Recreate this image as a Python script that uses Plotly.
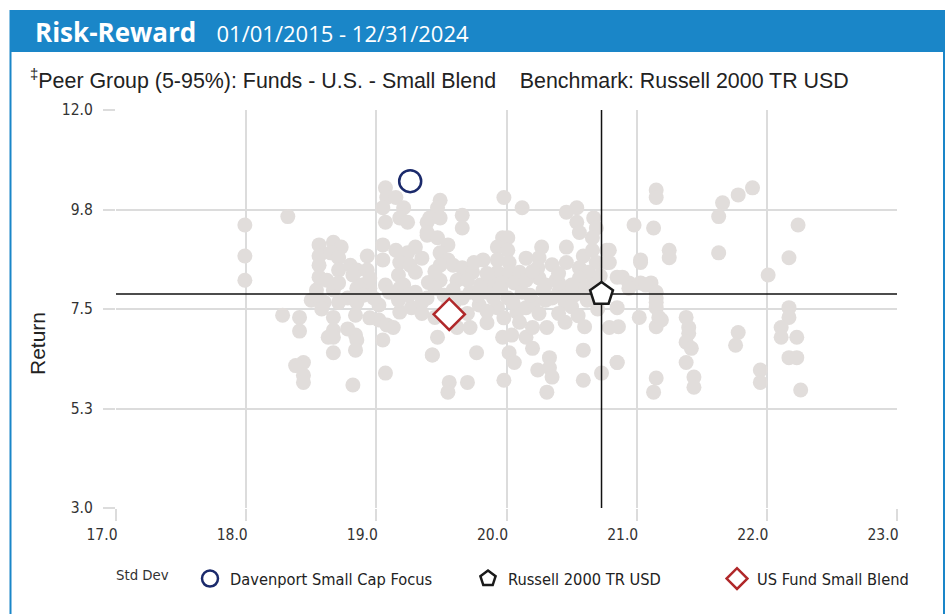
import plotly.graph_objects as go

# Peer group (Std Dev, Return)
peer_x = [17.99, 17.99, 17.99, 18.32,
          18.28, 18.41, 18.41, 18.44, 18.38, 18.44, 18.44,
          18.67, 18.67, 18.63, 18.67, 18.67, 18.82, 18.84, 18.84, 18.85, 18.84, 18.71, 18.85, 19.05, 19.07,
          19.02, 19.08, 19.13, 19.18, 19.27, 19.02, 19.17, 19.43,
          18.54, 18.67, 18.85, 18.95, 19.18,
          18.56, 18.67, 18.73, 18.56, 18.65, 18.71, 18.56, 18.71, 18.80, 18.93, 18.85, 18.93, 18.56, 18.71,
          18.82, 18.89, 19.05, 19.15, 19.24, 19.05, 19.18, 19.26, 19.07, 19.08, 19.15, 19.05, 19.21, 19.07,
          19.18, 19.24, 19.39, 19.39, 19.17, 19.21, 19.07,
          19.49, 19.47, 19.41, 19.49, 19.66, 19.66, 19.39, 19.47, 19.55, 19.49, 19.55, 19.49, 19.59, 19.66,
          19.74, 19.82, 19.49, 19.62, 19.70, 19.98, 20.12, 19.97, 20.01, 19.93, 20.01, 19.93, 20.02, 19.93,
          20.02, 20.10, 19.88, 19.97, 20.06, 20.27, 20.25, 20.24, 20.25, 20.38, 20.46, 20.54, 20.54, 20.56,
          20.67, 20.69, 20.46, 20.46, 20.59, 20.66, 20.66, 20.69, 20.56, 20.63, 20.77, 20.77, 20.85, 20.56,
          21.15, 21.15, 20.98, 21.13, 21.25, 21.25, 21.03, 21.03, 20.89, 20.94, 21.03, 21.11, 21.66, 21.63,
          21.78, 21.89, 21.63, 22.24, 22.17, 22.01, 20.79, 20.79,
          19.45, 19.47, 19.43, 19.77, 19.56, 19.55, 19.70, 19.98, 19.62, 19.72, 19.85, 19.97, 20.04, 20.02,
          20.06, 20.15, 20.20, 20.20, 20.31, 20.24, 20.33, 20.33, 20.35, 20.31, 20.59, 20.59, 20.73, 20.79,
          20.85, 19.66, 19.79, 19.93, 20.08, 20.15, 20.01, 20.21, 20.35, 20.46, 20.12, 19.85, 19.59,
          20.85, 20.86, 21.02, 21.15, 21.15, 21.17, 21.15, 21.19, 21.38, 21.40, 21.40, 21.38, 21.42, 21.38,
          21.44, 21.44, 21.15, 21.13, 20.85, 21.78, 21.76, 22.17, 22.17, 22.11, 22.11, 22.23, 22.17, 22.23,
          21.95, 21.95, 22.26, 20.94, 21.07, 21.15, 21.15,
          19.30, 19.39, 19.45, 19.52, 19.60, 19.72, 19.78, 19.90, 19.95, 20.05, 20.18, 20.28, 20.30, 20.40,
          20.45, 20.52, 20.60, 20.62, 20.50, 20.40, 20.30, 20.15, 19.80, 19.35, 19.25, 19.10, 18.98, 18.90,
          18.78, 18.60, 18.50, 18.62, 18.95, 19.30, 19.40, 19.35, 19.30, 19.45, 19.75, 19.85, 20.15, 20.20,
          20.35, 20.40, 20.65, 20.72, 20.50, 20.70, 20.55, 20.45, 20.60, 20.25, 20.40, 19.98, 20.10, 19.85,
          19.70, 19.55, 19.35, 18.78, 18.95, 18.58, 18.54]
peer_y = [9.40, 8.70, 8.15, 9.59,
          7.36, 7.31, 7.00, 6.29, 6.22, 6.00, 5.84,
          7.31, 7.02, 6.86, 6.86, 6.51, 5.78, 7.36, 6.91, 6.80, 6.57, 7.65, 7.65, 6.80, 6.05,
          7.25, 7.14, 7.08, 7.43, 7.53, 7.59, 7.70, 6.46,
          7.93, 7.93, 7.97, 7.97, 7.97,
          8.95, 9.01, 8.90, 8.70, 8.77, 8.66, 8.49, 8.38, 8.49, 8.70, 8.38, 8.38, 8.22, 8.09,
          8.27, 8.04, 8.95, 8.83, 8.77, 8.61, 8.55, 8.49, 10.24, 10.02, 10.02, 9.79, 9.79, 9.46,
          9.56, 9.46, 9.46, 9.17, 8.27, 8.04, 8.04,
          9.96, 9.79, 9.56, 9.56, 9.62, 9.33, 9.23, 9.11, 8.95, 8.77, 8.61, 8.49, 8.49, 8.43,
          8.33, 8.61, 8.15, 8.15, 8.15, 10.02, 9.79, 9.11, 9.11, 8.90, 8.83, 8.61, 8.55, 8.33,
          8.33, 8.33, 8.09, 8.09, 8.09, 8.90, 8.66, 8.43, 8.20, 8.15, 9.69, 9.79, 9.46, 9.23,
          9.56, 9.33, 8.90, 8.55, 8.70, 9.11, 8.83, 8.55, 8.43, 8.33, 8.83, 8.55, 8.22, 8.20,
          10.19, 10.02, 9.40, 9.33, 8.83, 8.66, 8.61, 8.55, 8.22, 8.09, 8.09, 8.09, 9.90, 9.59,
          10.08, 10.24, 8.77, 9.40, 8.66, 8.27, 8.83, 8.55,
          7.31, 6.86, 6.46, 6.51, 5.84, 5.62, 5.84, 5.89, 7.08, 7.08, 7.19, 6.86, 6.91, 6.51,
          6.29, 6.86, 6.61, 7.08, 7.08, 6.12, 6.40, 6.17, 5.96, 5.62, 6.57, 5.89, 6.05, 7.08,
          6.29, 7.75, 7.59, 7.53, 7.43, 7.53, 7.75, 7.65, 7.75, 7.97, 7.88, 7.88, 7.93,
          7.53, 7.10, 7.31, 7.75, 7.53, 7.31, 7.10, 7.25, 7.31, 7.08, 6.95, 6.75, 6.61, 6.29,
          5.96, 5.73, 5.94, 5.62, 6.29, 6.97, 6.68, 7.53, 7.31, 7.08, 6.86, 6.86, 6.40, 6.40,
          6.12, 5.84, 5.67, 7.97, 8.04, 7.88, 7.65,
          7.88, 7.75, 7.97, 7.81, 7.65, 7.88, 7.81, 7.75, 7.97, 7.65, 7.81, 7.93, 7.70, 7.88,
          7.65, 7.81, 7.97, 7.70, 8.04, 8.09, 8.04, 8.15, 8.04, 7.65, 7.81, 7.88, 7.75, 7.81,
          7.75, 7.65, 7.70, 8.15, 8.20, 8.33, 8.10, 8.65, 8.90, 8.35, 8.55, 8.30, 8.65, 8.35,
          8.50, 8.30, 8.05, 8.25, 7.55, 7.50, 7.35, 7.20, 7.10, 7.40, 7.40, 7.30, 7.20, 7.45,
          7.40, 7.55, 7.40, 7.05, 7.30, 7.50, 7.81]

fund_name = "Davenport Small Cap Focus"
fund_x = [19.26]
fund_y = [10.39]

bench_name = "Russell 2000 TR USD"
bench_x = [20.73]
bench_y = [7.84]

cat_name = "US Fund Small Blend"
cat_x = [19.56]
cat_y = [7.38]

x_range = [17.0, 23.0]
y_range = [3.0, 12.0]
x_ticks = [17.0, 18.0, 19.0, 20.0, 21.0, 22.0, 23.0]
y_ticks = [3.0, 5.25, 7.5, 9.75, 12.0]
y_tick_labels = ["3.0", "5.3", "7.5", "9.8", "12.0"]

title_text = "Risk-Reward"
date_text = "01/01/2015 - 12/31/2024"
subtitle_text = "<sup>\u2021</sup>Peer Group (5-95%): Funds - U.S. - Small Blend    Benchmark: Russell 2000 TR USD"
y_title = "Return"
x_title = "Std Dev"

BLUE = "#1a86c8"
GRID = "#dcdcdc"
NARROW = "DejaVu Sans Condensed, sans-serif"

fig = go.Figure()
fig.add_trace(go.Scatter(x=peer_x, y=peer_y, mode="markers", showlegend=False, hoverinfo="skip",
                         marker=dict(size=15, color="#e1dddb", line=dict(width=0))))
# crosshair through benchmark
fig.add_trace(go.Scatter(x=[bench_x[0], bench_x[0]], y=y_range, mode="lines", showlegend=False,
                         line=dict(color="#111111", width=1.5), hoverinfo="skip"))
fig.add_trace(go.Scatter(x=x_range, y=[bench_y[0], bench_y[0]], mode="lines", showlegend=False,
                         line=dict(color="#111111", width=1.5), hoverinfo="skip"))
fig.add_trace(go.Scatter(x=fund_x, y=fund_y, mode="markers", name=fund_name, legend="legend",
                         marker=dict(symbol="circle", size=22, color="rgba(255,255,255,0)",
                                     line=dict(color="#1b2a6b", width=2.5))))
fig.add_trace(go.Scatter(x=bench_x, y=bench_y, mode="markers", name=bench_name, legend="legend2",
                         marker=dict(symbol="pentagon", size=24, color="white",
                                     line=dict(color="#1a1a1a", width=2.5))))
fig.add_trace(go.Scatter(x=cat_x, y=cat_y, mode="markers", name=cat_name, legend="legend3",
                         marker=dict(symbol="diamond", size=24, color="white",
                                     line=dict(color="#b0282a", width=2.5))))

L, R, T, B = 116, 51, 110, 106
W, H = 948, 614
pw, ph = W - L - R, H - T - B


def px_x(px):
    return (px - L) / pw


def px_y(py):
    return (H - B - py) / ph


shapes = [
    dict(type="rect", xref="paper", yref="paper", x0=px_x(10), x1=px_x(944), y0=px_y(52), y1=px_y(10),
         fillcolor=BLUE, line=dict(width=0), layer="below"),
    dict(type="line", xref="paper", yref="paper", x0=px_x(10.5), x1=px_x(10.5), y0=px_y(10), y1=px_y(616),
         line=dict(color=BLUE, width=2)),
    dict(type="line", xref="paper", yref="paper", x0=px_x(944), x1=px_x(944), y0=px_y(10), y1=px_y(616),
         line=dict(color=BLUE, width=2)),
]

annotations = [
    dict(xref="paper", yref="paper", x=px_x(33), y=px_y(32), xanchor="left", yanchor="middle",
         showarrow=False,
         text=f"<b>{title_text}</b>   <span style='font-size:22px'>{date_text}</span>",
         font=dict(family="Open Sans", size=26, color="white")),
    dict(xref="paper", yref="paper", x=px_x(28), y=px_y(79), xanchor="left", yanchor="middle",
         showarrow=False, text=subtitle_text,
         font=dict(family="Liberation Sans", size=21.4, color="#222222")),
    dict(xref="paper", yref="paper", x=px_x(114), y=px_y(574), xanchor="left", yanchor="middle",
         showarrow=False, text=x_title,
         font=dict(family=NARROW, size=14.8, color="#333333")),
    dict(xref="paper", yref="paper", x=px_x(37), y=px_y(344), xanchor="center", yanchor="middle",
         showarrow=False, text=y_title, textangle=-90,
         font=dict(family="Liberation Sans", size=21, color="#222222")),
]

leg_common = dict(orientation="h", yanchor="middle", xanchor="left",
                  font=dict(family=NARROW, size=16.3, color="#222222"),
                  bgcolor="rgba(0,0,0,0)", itemsizing="trace")

fig.update_layout(
    width=W, height=H,
    margin=dict(l=L, r=R, t=T, b=B, pad=0, autoexpand=False),
    paper_bgcolor="white", plot_bgcolor="white",
    shapes=shapes, annotations=annotations,
    showlegend=True,
    legend=dict(x=px_x(190), y=px_y(579), **leg_common),
    legend2=dict(x=px_x(468), y=px_y(579), **leg_common),
    legend3=dict(x=px_x(717), y=px_y(579), **leg_common),
    xaxis=dict(range=x_range, tickvals=x_ticks, tickformat=".1f", showgrid=True, gridcolor=GRID,
               gridwidth=2, zeroline=False, showline=False, ticks="outside", ticklen=12,
               tickcolor=GRID, tickwidth=2, ticklabelshift=-14, automargin=False,
               tickfont=dict(family=NARROW, size=15.5, color="#333333")),
    yaxis=dict(range=y_range, tickvals=y_ticks, ticktext=y_tick_labels, showgrid=True, gridcolor=GRID,
               gridwidth=2, zeroline=False, showline=False, ticks="outside", ticklen=12,
               tickcolor=GRID, tickwidth=2, ticklabelstandoff=7, automargin=False,
               tickfont=dict(family=NARROW, size=15.5, color="#333333")),
)

fig.write_html("out.html", post_script="document.body.style.margin='0px';",
               config={"displayModeBar": False})
